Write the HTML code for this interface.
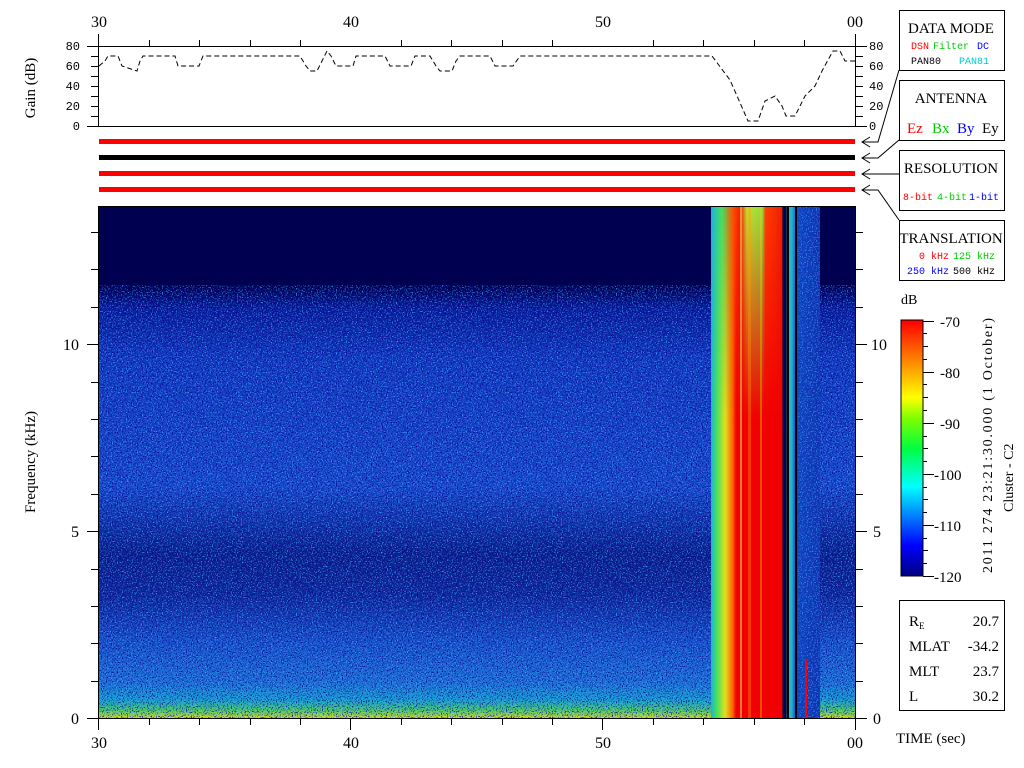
<!DOCTYPE html>
<html><head><meta charset="utf-8"><style>
html,body{margin:0;padding:0;background:#fff;width:1024px;height:768px;overflow:hidden}
svg{display:block;font-family:"Liberation Mono","DejaVu Sans Mono",monospace}
.s{font-family:"Liberation Serif","DejaVu Serif",serif}
</style></head><body>
<svg width="1024" height="768" viewBox="0 0 1024 768" xmlns="http://www.w3.org/2000/svg">
<defs>
<linearGradient id="bg" x1="0" y1="206" x2="0" y2="718" gradientUnits="userSpaceOnUse">
<stop offset="0" stop-color="#000050"/>
<stop offset="0.16" stop-color="#000050"/>
<stop offset="0.2" stop-color="#0a1a9a"/>
<stop offset="0.3" stop-color="#1438c0"/>
<stop offset="0.55" stop-color="#1a48cc"/>
<stop offset="0.68" stop-color="#0c1e8a"/>
<stop offset="0.76" stop-color="#10269a"/>
<stop offset="0.85" stop-color="#1a50cc"/>
<stop offset="0.93" stop-color="#2070d8"/>
<stop offset="0.965" stop-color="#18a0d0"/>
<stop offset="0.985" stop-color="#50d060"/>
<stop offset="1" stop-color="#e0e020"/>
</linearGradient>
<linearGradient id="burst" x1="711" y1="0" x2="820" y2="0" gradientUnits="userSpaceOnUse">
<stop offset="0" stop-color="#20b0e0"/>
<stop offset="0.05" stop-color="#40e060"/>
<stop offset="0.13" stop-color="#e0e020"/>
<stop offset="0.2" stop-color="#ff6000"/>
<stop offset="0.23" stop-color="#f00000"/>
<stop offset="0.65" stop-color="#f00000"/>
<stop offset="0.66" stop-color="#000050"/>
<stop offset="0.69" stop-color="#000050"/>
<stop offset="0.7" stop-color="#30d050"/>
<stop offset="0.74" stop-color="#20b0e0"/>
<stop offset="0.78" stop-color="#1040c0"/>
<stop offset="1" stop-color="#1030b0"/>
</linearGradient>
<linearGradient id="fade" x1="0" y1="206" x2="0" y2="420" gradientUnits="userSpaceOnUse">
<stop offset="0" stop-color="#fff" stop-opacity="1"/>
<stop offset="1" stop-color="#fff" stop-opacity="0"/>
</linearGradient>
<mask id="fm"><rect x="700" y="206" width="130" height="250" fill="url(#fade)"/></mask>
<linearGradient id="burstTop" x1="711" y1="0" x2="820" y2="0" gradientUnits="userSpaceOnUse">
<stop offset="0" stop-color="#20b0e0"/>
<stop offset="0.1" stop-color="#40e060"/>
<stop offset="0.2" stop-color="#ff5000"/>
<stop offset="0.27" stop-color="#f02000"/>
<stop offset="0.33" stop-color="#c0e030"/>
<stop offset="0.47" stop-color="#90e040"/>
<stop offset="0.5" stop-color="#ff4000"/>
<stop offset="0.65" stop-color="#f02000"/>
<stop offset="0.66" stop-color="#000050"/>
<stop offset="0.69" stop-color="#000050"/>
<stop offset="0.7" stop-color="#30d050"/>
<stop offset="0.74" stop-color="#20b0e0"/>
<stop offset="0.8" stop-color="#1040c0"/>
<stop offset="1" stop-color="#1030b0"/>
</linearGradient>
<linearGradient id="cb" x1="0" y1="576" x2="0" y2="321" gradientUnits="userSpaceOnUse">
<stop offset="0" stop-color="#000080"/>
<stop offset="0.12" stop-color="#0000ff"/>
<stop offset="0.35" stop-color="#00ffff"/>
<stop offset="0.5" stop-color="#00ff40"/>
<stop offset="0.62" stop-color="#80ff00"/>
<stop offset="0.7" stop-color="#ffff00"/>
<stop offset="0.85" stop-color="#ff8000"/>
<stop offset="1" stop-color="#ff0000"/>
</linearGradient>
<filter id="nz" x="0" y="0" width="100%" height="100%">
<feTurbulence type="fractalNoise" baseFrequency="0.8" numOctaves="1" seed="3"/>
<feColorMatrix type="matrix" values="0 0 0 0 0.05  0 0 0 0 0.45  0 0 0 0 1  5 0 0 0 -2.6"/>
</filter>
<filter id="nz2" x="0" y="0" width="100%" height="100%">
<feTurbulence type="fractalNoise" baseFrequency="0.8" numOctaves="1" seed="9"/>
<feColorMatrix type="matrix" values="0 0 0 0 0  0 0 0 0 0  0 0 0 0 0.25  5 0 0 0 -2.6"/>
</filter>
</defs>

<g font-size="16" class="s" text-anchor="middle">
<text x="99" y="27">30</text><text x="351" y="27">40</text><text x="603" y="27">50</text><text x="855" y="27">00</text>
</g>

<g stroke="#000" stroke-width="1" fill="none">
<line x1="87" y1="46.5" x2="867" y2="46.5"/>
<line x1="87" y1="126.5" x2="867" y2="126.5"/>
<line x1="98.5" y1="34" x2="98.5" y2="127"/>
<line x1="855.5" y1="34" x2="855.5" y2="127"/>
<path d="M149.5 40v6M199.5 40v6M250.5 40v6M300.5 40v6M401.5 40v6M451.5 40v6M502.5 40v6M552.5 40v6M653.5 40v6M703.5 40v6M754.5 40v6M804.5 40v6"/>
<path d="M91 56.5h8M91 66.5h8M91 76.5h8M91 86.5h8M91 96.5h8M91 106.5h8M91 116.5h8"/>
<path d="M855 56.5h8M855 66.5h8M855 76.5h8M855 86.5h8M855 96.5h8M855 106.5h8M855 116.5h8"/>
<polyline points="99,66 105,61 108,56 118,56 122,66 137,71 140,61 143,56 175,56 178,66 199,66 203,56 300,56 306,66 310,71 317,71 322,61 327,51 331,56 336,66 353,66 356,56 385,56 390,66 411,66 415,56 430,56 436,66 440,71 452,71 456,61 460,56 490,56 495,66 513,66 520,56 712,56 730,80 748,121 758,121 765,101 775,96 782,106 786,116 795,116 805,96 815,86 822,71 833,51 840,51 845,61 855,61" stroke-dasharray="5 3"/>
</g>
<g font-size="12" text-anchor="end">
<text x="80" y="50">80</text><text x="80" y="70">60</text><text x="80" y="90">40</text><text x="80" y="110">20</text><text x="80" y="130">0</text>
</g>
<g font-size="12">
<text x="869" y="50">80</text><text x="869" y="70">60</text><text x="869" y="90">40</text><text x="869" y="110">20</text><text x="869" y="130">0</text>
</g>
<text class="s" font-size="15" transform="translate(35,88) rotate(-90)" text-anchor="middle">Gain (dB)</text>

<rect x="99" y="139" width="756" height="5" fill="#f00"/>
<rect x="99" y="155" width="756" height="5" fill="#000"/>
<rect x="99" y="171" width="756" height="5" fill="#f00"/>
<rect x="99" y="187" width="756" height="5" fill="#f00"/>

<g stroke="#000" fill="none">
<path d="M899 70 L878 142 L862 142 M870 137 L862 142 L870 147"/>
<path d="M899 140 L878 158 L862 158 M870 153 L862 158 L870 163"/>
<path d="M899 174 L862 174 M870 169 L862 174 L870 179"/>
<path d="M899 220 L878 190 L862 190 M870 185 L862 190 L870 195"/>
</g>

<rect x="99" y="206" width="756" height="512" fill="url(#bg)"/>
<rect x="99" y="285" width="756" height="433" filter="url(#nz)" opacity="0.8"/>
<rect x="99" y="285" width="756" height="433" filter="url(#nz2)" opacity="0.9"/>
<rect x="711" y="206" width="109" height="512" fill="url(#burst)"/>
<rect x="711" y="206" width="109" height="250" fill="url(#burstTop)" mask="url(#fm)"/>
<rect x="798" y="206" width="22" height="512" filter="url(#nz)" opacity="0.7"/>
<rect x="740" y="206" width="2" height="512" fill="#f0f060" opacity="0.5"/>
<rect x="748" y="206" width="3" height="512" fill="#ffa000" opacity="0.35"/>
<rect x="760" y="206" width="2" height="512" fill="#e0e000" opacity="0.35"/>
<rect x="787" y="206" width="2" height="512" fill="#000"/>
<rect x="795" y="206" width="2" height="512" fill="#000"/>
<rect x="805" y="660" width="2" height="58" fill="#f00"/>
<rect x="98.5" y="206.5" width="757" height="512" fill="none" stroke="#000"/>

<g stroke="#000" fill="none">
<path d="M87 718.5h12M87 531.5h12M87 344.5h12M91 681.5h8M91 643.5h8M91 606.5h8M91 569.5h8M91 494.5h8M91 456.5h8M91 419.5h8M91 382.5h8M91 307.5h8M91 269.5h8M91 232.5h8"/>
<path d="M855 718.5h12M855 531.5h12M855 344.5h12M855 681.5h8M855 643.5h8M855 606.5h8M855 569.5h8M855 494.5h8M855 456.5h8M855 419.5h8M855 382.5h8M855 307.5h8M855 269.5h8M855 232.5h8"/>
<path d="M98.5 718v12M350.5 718v12M602.5 718v12M855.5 718v12M149.5 718v7M199.5 718v7M250.5 718v7M300.5 718v7M401.5 718v7M451.5 718v7M502.5 718v7M552.5 718v7M653.5 718v7M703.5 718v7M754.5 718v7M804.5 718v7"/>
</g>
<g class="s" font-size="16">
<text x="79" y="724" text-anchor="end">0</text><text x="79" y="537" text-anchor="end">5</text><text x="79" y="350" text-anchor="end">10</text>
<text x="873" y="724">0</text><text x="873" y="537">5</text><text x="871" y="350">10</text>
</g>
<g class="s" font-size="16" text-anchor="middle">
<text x="99" y="748">30</text><text x="351" y="748">40</text><text x="603" y="748">50</text><text x="855" y="748">00</text>
</g>
<text class="s" font-size="15" transform="translate(35,462) rotate(-90)" text-anchor="middle">Frequency (kHz)</text>
<text class="s" font-size="15" x="896" y="743">TIME (sec)</text>

<g fill="none" stroke="#000">
<rect x="899.5" y="10.5" width="105" height="60"/>
<rect x="899.5" y="80.5" width="105" height="60"/>
<rect x="899.5" y="150.5" width="105" height="60"/>
<rect x="899.5" y="220.5" width="105" height="60"/>
<rect x="899.5" y="600.5" width="105" height="110"/>
</g>
<g class="s" font-size="15" text-anchor="middle">
<text x="951" y="33">DATA MODE</text>
<text x="951" y="103">ANTENNA</text>
<text x="951" y="173">RESOLUTION</text>
<text x="951" y="243">TRANSLATION</text>
</g>
<g font-size="10">
<text x="911" y="49" fill="#f00">DSN</text><text x="933" y="49" fill="#0c0">Filter</text><text x="977" y="49" fill="#00f">DC</text>
<text x="911" y="64" fill="#000">PAN80</text><text x="959" y="64" fill="#0cc">PAN81</text>
<text x="903" y="200" fill="#f00">8-bit</text><text x="937" y="200" fill="#0c0">4-bit</text><text x="969" y="200" fill="#00f">1-bit</text>
<text x="919" y="259" fill="#f00">0 kHz</text><text x="953" y="259" fill="#0c0">125 kHz</text>
<text x="907" y="274" fill="#00f">250 kHz</text><text x="953" y="274" fill="#000">500 kHz</text>
</g>
<g class="s" font-size="15">
<text x="907" y="133" fill="#f00">Ez</text><text x="932" y="133" fill="#0c0">Bx</text><text x="957" y="133" fill="#00f">By</text><text x="982" y="133" fill="#000">Ey</text>
</g>

<text class="s" x="901" y="304" font-size="14">dB</text>
<rect x="901" y="320" width="22" height="256" fill="url(#cb)" stroke="#000"/>
<g stroke="#000">
<path d="M923 321.5h11M923 372.5h11M923 423.5h11M923 474.5h11M923 525.5h11M923 576.5h11M923 346.5h5M923 397.5h5M923 448.5h5M923 499.5h5M923 550.5h5M923 333.5h4M923 359.5h4M923 384.5h4M923 410.5h4M923 436.5h4M923 461.5h4M923 487.5h4M923 512.5h4M923 538.5h4M923 563.5h4"/>
</g>
<g class="s" font-size="15">
<text x="940" y="327">-70</text><text x="940" y="378">-80</text><text x="940" y="429">-90</text>
<text x="934" y="480">-100</text><text x="934" y="531">-110</text><text x="934" y="582">-120</text>
</g>
<text class="s" font-size="14" transform="translate(992,573) rotate(-90)" textLength="255">2011 274 23:21:30.000 (1 October)</text>
<text class="s" font-size="14" transform="translate(1013,512) rotate(-90)">Cluster - C2</text>

<g class="s" font-size="15">
<text x="909" y="626">R</text><text x="919" y="629" font-size="9">E</text><text x="999" y="626" text-anchor="end">20.7</text>
<text x="909" y="651">MLAT</text><text x="999" y="651" text-anchor="end">-34.2</text>
<text x="909" y="676">MLT</text><text x="999" y="676" text-anchor="end">23.7</text>
<text x="909" y="701">L</text><text x="999" y="701" text-anchor="end">30.2</text>
</g>
</svg>
</body></html>
